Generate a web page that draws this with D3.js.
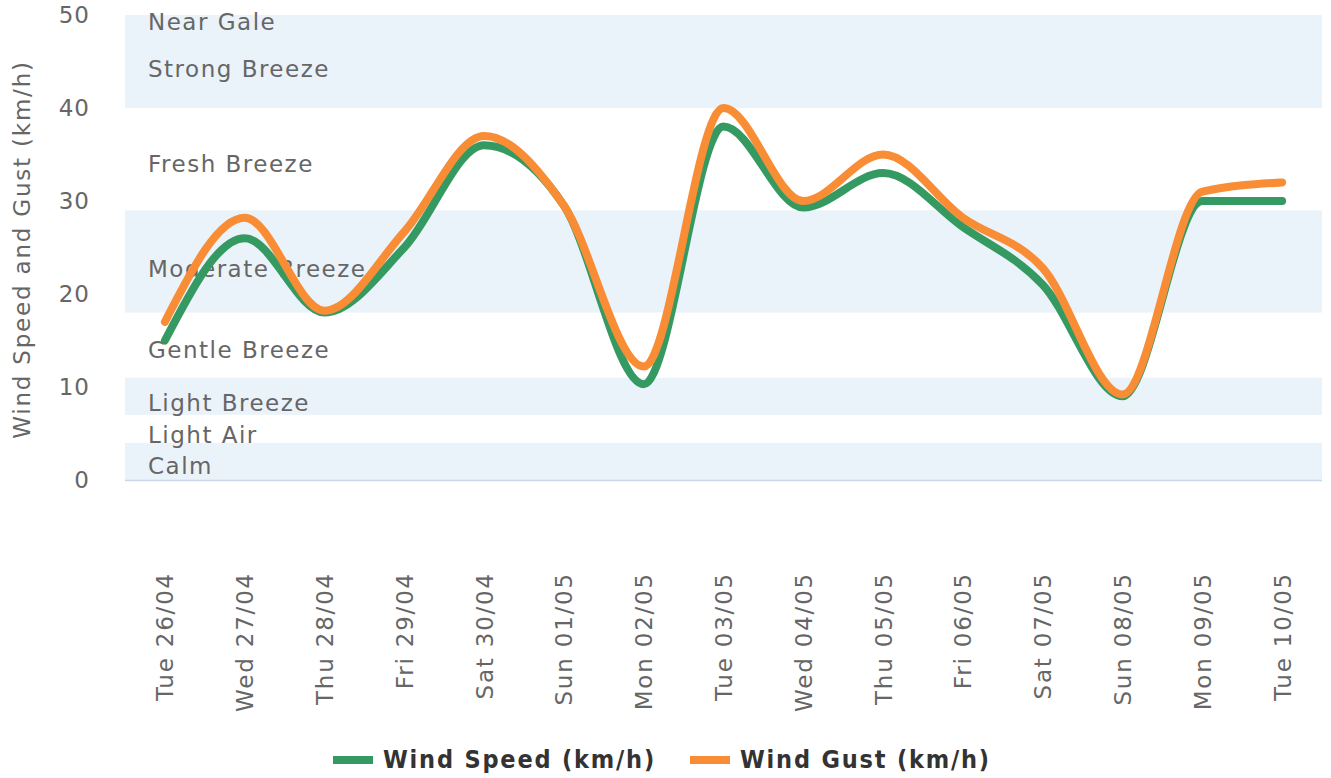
<!DOCTYPE html>
<html><head><meta charset="utf-8">
<script src="https://cdn.jsdelivr.net/npm/d3@7"></script>
<style>
body{margin:0;background:#fff;}
svg{display:block;}
</style></head>
<body><svg id="c" width="1331" height="778"></svg>
<script>
const categories = ["Tue 26/04","Wed 27/04","Thu 28/04","Fri 29/04","Sat 30/04","Sun 01/05","Mon 02/05","Tue 03/05","Wed 04/05","Thu 05/05","Fri 06/05","Sat 07/05","Sun 08/05","Mon 09/05","Tue 10/05"];
const windSpeed = [15,26,18,25,36,29.5,10.3,38,29.3,33,27.2,21,9,30,30];
const windGust  = [17,28.2,18.2,26.7,37,29.5,12.2,40,30,35,28.2,22.8,9.2,31,32];
const yTicks = [0,10,20,30,40,50];
const bandFrom = [0,4,7,11,18,29,40];
const bandTo   = [4,7,11,18,29,40,50];
const bandShaded = [true,false,true,false,true,false,true];
const bandLabels = ["Calm","Light Air","Light Breeze","Gentle Breeze","Moderate Breeze","Fresh Breeze","Strong Breeze","Near Gale"];
const bandLabelValues = [0.6,4.0,7.4,13.1,21.8,33.1,43.3,48.4];
const seriesNames = ["Wind Speed (km/h)","Wind Gust (km/h)"];
const seriesColors = ["#359a62","#f98d35"];

const svg = d3.select("#c");
const L=125, R=1322, T=15, B=480;
const x = d3.scalePoint().domain(categories).range([L,R]).padding(0.5);
const y = d3.scaleLinear().domain([0,50]).range([B,T]);
const font = "'DejaVu Sans', sans-serif";

// bands
svg.append("g").selectAll("rect").data(bandFrom.map((f,i)=>({f,t:bandTo[i],s:bandShaded[i]})).filter(d=>d.s))
  .join("rect").attr("x",L).attr("width",R-L)
  .attr("y",d=>y(d.t)).attr("height",d=>y(d.f)-y(d.t)).attr("fill","#ebf3fa");

// band labels
svg.append("g").selectAll("text").data(bandLabels).join("text")
  .attr("x",148).attr("y",(d,i)=>y(bandLabelValues[i]))
  .attr("font-family",font).attr("font-size",23).attr("letter-spacing",1.5).attr("fill","#666").text(d=>d);

// axis line
svg.append("line").attr("x1",L).attr("x2",R).attr("y1",B+0.5).attr("y2",B+0.5).attr("stroke","#ccd6eb").attr("stroke-width",1.5);

// y axis
const ya = d3.axisLeft(y).tickValues(yTicks).tickSize(0).tickPadding(0);
const gy = svg.append("g").attr("transform",`translate(${L-35},0)`).call(ya);
gy.select(".domain").remove();
gy.selectAll("text").attr("font-family",font).attr("font-size",23).attr("letter-spacing",1).attr("fill","#666").attr("dy","0.32em");

svg.append("text").attr("transform",`translate(30,${(T+B)/2+2}) rotate(-90)`).attr("text-anchor","middle")
  .attr("font-family",font).attr("font-size",23).attr("letter-spacing",1.8).attr("fill","#666").text("Wind Speed and Gust (km/h)");

// x axis
const xa = d3.axisBottom(x).tickSize(0).tickPadding(0);
const gx = svg.append("g").attr("transform",`translate(0,${B})`).call(xa);
gx.select(".domain").remove();
gx.selectAll("text").attr("font-family",font).attr("font-size",23).attr("letter-spacing",1.8).attr("fill","#666")
  .attr("text-anchor","end").attr("transform","translate(8,92) rotate(-90)").attr("dy",0).attr("y",0);

// lines
const line = d3.line().x((d,i)=>x(categories[i])).y(d=>y(d)).curve(d3.curveMonotoneX);
[windSpeed,windGust].forEach((s,k)=>{
  svg.append("path").attr("d",line(s)).attr("fill","none").attr("stroke",seriesColors[k])
    .attr("stroke-width",8).attr("stroke-linecap","round").attr("stroke-linejoin","round");
});

// legend
const lg = svg.append("g").attr("font-family","'DejaVu Sans Condensed','DejaVu Sans',sans-serif").attr("font-weight","bold").attr("font-size",25).attr("letter-spacing",1.8).attr("fill","#333");
const legX=[333,690];
seriesNames.forEach((n,i)=>{
  lg.append("rect").attr("x",legX[i]).attr("y",756).attr("width",40).attr("height",8).attr("fill",seriesColors[i]);
  lg.append("text").attr("x",legX[i]+50).attr("y",768).text(n);
});
</script></body></html>
